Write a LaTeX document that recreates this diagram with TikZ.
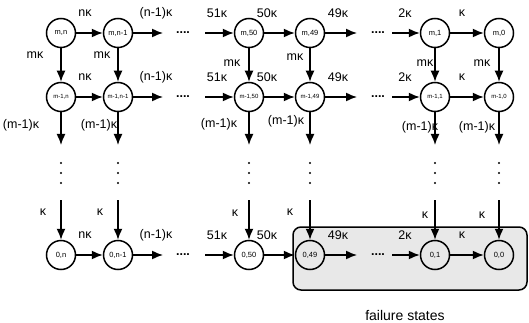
\documentclass[tikz,border=0pt]{standalone}
\usepackage{fontspec}
\setmainfont{Liberation Sans}
\usetikzlibrary{arrows.meta}
\tikzset{
  state/.style={circle,draw,line width=1.5pt,minimum size=29pt,inner sep=0pt,font=\fontsize{7.5}{7.5}\selectfont},
  small state/.style={state,font=\fontsize{6}{6}\selectfont},
  rate/.style={font=\fontsize{12.5}{12.5}\selectfont,inner sep=0pt},
  trans/.style={-{Latex[length=11pt,width=9pt]},line width=1.5pt},
}
\begin{document}
\begin{tikzpicture}[x=1pt,y=-1pt]
\useasboundingbox (0,0) rectangle (529,323);
% failure region
\draw[line width=1.5pt,rounded corners=8pt,fill=gray!18] (293,227) rectangle (527,290);
\node[rate,font=\fontsize{14}{14}\selectfont] (fail) at (405,315) {failure states};
% states and vertical transitions
\foreach \c/\x/\s in {1/61/n, 2/118/n-1, 3/249/50, 4/310/49, 5/435/1, 6/499/0} {
  \node[state] (a\c) at (\x,33) {m,\s};
  \node[small state] (b\c) at (\x,97) {m-1,\s};
  \node[state] (c\c) at (\x,255) {0,\s};
  \coordinate (bot\c) at (\x,145);
  \coordinate (top\c) at (\x,200);
  \draw[trans] (a\c) -- (b\c);
  \draw[trans] (b\c) -- (bot\c);
  \draw[trans] (top\c) -- (c\c);
  \foreach \y in {163,173,183}
    \fill (\x,\y) circle (1.1pt);
}
% horizontal transitions
\foreach \r/\y in {a/33, b/97, c/255} {
  \coordinate (\r out2) at (163,\y);
  \coordinate (\r in3) at (205,\y);
  \coordinate (\r out4) at (357,\y);
  \coordinate (\r in5) at (392,\y);
  \draw[trans] (\r1) -- (\r2);
  \draw[trans] (\r2) -- (\r out2);
  \draw[trans] (\r in3) -- (\r3);
  \draw[trans] (\r3) -- (\r4);
  \draw[trans] (\r4) -- (\r out4);
  \draw[trans] (\r in5) -- (\r5);
  \draw[trans] (\r5) -- (\r6);
  \node[rate] (\r dotsA) at (183,\y) {\textbf{....}};
  \node[rate] (\r dotsB) at (378,\y) {\textbf{....}};
  \foreach \x/\l in {85/nκ, 156/(n-1)κ, 217/51κ, 267/50κ, 338/49κ, 405/2κ, 462/κ}
    \node[rate] at (\x,\y-20) {\l};
}
% vertical rates
\foreach \x/\y in {35/55, 102/55, 232/63, 295/57, 425/63, 482/63}
  \node[rate] at (\x,\y) {mκ};
\foreach \x/\y in {21/125, 99/125, 219/124, 286/121, 420/127, 477/127}
  \node[rate] at (\x,\y) {(m-1)κ};
\foreach \x/\y in {43/212, 100/212, 235/213, 290/212, 425/215, 482/215}
  \node[rate] at (\x,\y) {κ};
\end{tikzpicture}
\end{document}
